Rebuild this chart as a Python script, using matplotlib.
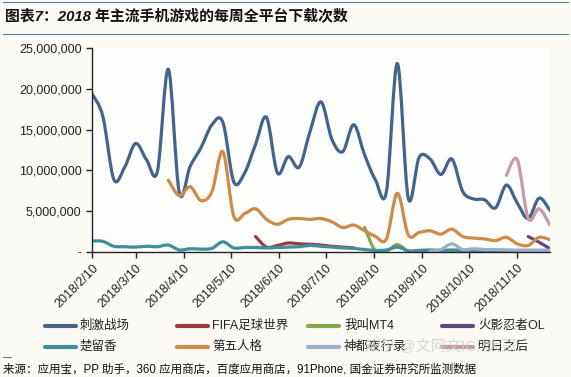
import numpy as np
import pandas as pd
import matplotlib
matplotlib.use('Agg')
import matplotlib.pyplot as plt
import matplotlib.dates as mdates
from matplotlib.path import Path
from matplotlib.patches import PathPatch
from matplotlib.lines import Line2D
from matplotlib.ticker import FuncFormatter

plt.rcParams['font.family'] = ['Liberation Sans', 'Noto Sans CJK SC']
plt.rcParams['axes.unicode_minus'] = False

# weekly download counts (millions), first week 2018/2/10
weeks = pd.date_range('2018-02-10', periods=43, freq='7D')

ciji = [19.4, 16.6, 8.9, 10.4, 13.3, 11.3, 9.9, 22.4, 7.3, 10.5,
        12.8, 15.6, 15.9, 8.6, 9.7, 13.2, 16.5, 9.7, 11.7, 10.4,
        14.8, 18.4, 13.8, 12.3, 15.6, 11.9, 8.8, 7.4, 23.1, 6.6,
        11.6, 11.4, 9.5, 11.4, 7.4, 6.5, 6.4, 5.4, 8.2, 6.0,
        4.1, 6.6, 5.1]
fifa_start = 15
fifa = [1.9, 0.6, 0.8, 1.1, 1.0, 0.95, 0.85, 0.7, 0.6, 0.5]
mt4_start = 25
mt4 = [3.0, 0.1, 0.1, 0.9, 0.1, 0.05, 0.05, 0.05, 0.05, 0.05,
       0.05, 0.05, 0.05, 0.05, 0.05, 0.05, 0.05, 0.05]
huoying_start = 40
huoying = [1.9, 1.2, 0.4]
chuliuxiang = [1.35, 1.3, 0.7, 0.65, 0.6, 0.7, 0.65, 0.85, 0.25, 0.4,
               0.35, 0.45, 1.25, 0.5, 0.55, 0.55, 0.5, 0.55, 0.6, 0.65,
               0.8, 0.7, 0.6, 0.5, 0.45, 0.3, 0.2, 0.25, 0.6, 0.15,
               0.2, 0.25, 0.2, 0.25, 0.2, 0.2, 0.2, 0.2, 0.2, 0.2,
               0.2, 0.2, 0.2]
diwu_start = 7
diwu = [8.8, 6.9, 8.0, 6.3, 7.4, 12.3, 4.4, 4.7, 5.3, 4.0,
        3.4, 4.0, 4.1, 4.0, 4.1, 3.7, 3.0, 3.3, 2.6, 1.9,
        1.6, 7.2, 2.1, 2.4, 2.6, 2.2, 2.8, 1.9, 1.7, 1.6,
        1.4, 1.8, 1.0, 0.8, 1.8, 1.5]
shendu_start = 31
shendu = [0.1, 0.3, 1.0, 0.3, 0.4, 0.3, 0.3, 0.25, 0.2, 0.2, 0.2, 0.2]
mingri_start = 38
mingri = [9.4, 11.3, 4.1, 5.3, 3.3]

names = ['刺激战场', 'FIFA足球世界', '我叫MT4', '火影忍者OL',
         '楚留香', '第五人格', '神都夜行录', '明日之后']
series = [(0, ciji), (fifa_start, fifa), (mt4_start, mt4), (huoying_start, huoying),
          (0, chuliuxiang), (diwu_start, diwu), (shendu_start, shendu), (mingri_start, mingri)]
colors = ['#44648c', '#9c3b3e', '#86a84d', '#5a4b7b',
          '#3f8e9b', '#d08a48', '#9aafcb', '#c69aa6']

month_ticks = pd.date_range('2018-02-01', '2018-11-01', freq='MS') + pd.Timedelta(days=9)


def smooth_path(x, y):
    # Excel style smoothed line: cubic bezier through every point
    pts = np.column_stack([x, y])
    n = len(pts)
    verts = [pts[0]]
    codes = [Path.MOVETO]
    for i in range(n - 1):
        p0 = pts[i - 1] if i > 0 else pts[i]
        p1 = pts[i]
        p2 = pts[i + 1]
        p3 = pts[i + 2] if i + 2 < n else pts[i + 1]
        c1 = p1 + (p2 - p0) / 6
        c2 = p2 - (p3 - p1) / 6
        verts += [c1, c2, p2]
        codes += [Path.CURVE4] * 3
    return Path(verts, codes)


fig = plt.figure(figsize=(5.71, 3.77), dpi=100)
fig.patch.set_facecolor('#fcfaf5')
ax = fig.add_axes([92 / 571, 1 - 252 / 377, 458 / 571, 204 / 377])
ax.set_facecolor('#fdfdfc')

xnum = mdates.date2num(weeks)
for (start, vals), c in zip(series, colors):
    xs = xnum[start:start + len(vals)]
    ys = np.array(vals) * 1e6
    patch = PathPatch(smooth_path(xs, ys), fill=False, edgecolor=c, lw=2.3,
                      capstyle='round', joinstyle='round')
    ax.add_patch(patch)

ax.set_xlim(xnum[0], xnum[-1])
ax.set_ylim(0, 25e6)
ax.set_yticks(np.arange(0, 25e6 + 1, 5e6))
ax.yaxis.set_major_formatter(FuncFormatter(lambda v, p: '-' if v == 0 else f'{v:,.0f}'))
ax.set_xticks(mdates.date2num(month_ticks))
ax.set_xticklabels([f'{d.year}/{d.month}/{d.day}' for d in month_ticks],
                   rotation=45, ha='right', va='top', rotation_mode='anchor')
ax.tick_params(axis='both', labelsize=9, colors='#222222', length=4, width=1)
ax.tick_params(axis='x', pad=3)
for s in ['top', 'right']:
    ax.spines[s].set_visible(False)
for s in ['left', 'bottom']:
    ax.spines[s].set_color('#222222')
    ax.spines[s].set_linewidth(1)

# title block
fig.add_artist(Line2D([3 / 571, 568 / 571], [1 - 2 / 377] * 2, color='#4f8196', lw=0.8))
fig.add_artist(Line2D([3 / 571, 568 / 571], [1 - 34 / 377] * 2, color='#4f8196', lw=0.8))
fig.text(5 / 571, 1 - 17 / 377, '图表7：2018 年主流手机游戏的每周全平台下载次数',
         fontsize=10.7, fontweight='bold', style='italic', va='center', color='#111111')

# legend, drawn by hand to keep the Excel column positions
handle_x = [45, 177, 308, 442]
text_x = [80, 212, 344, 478]
row_y = [326, 347]
for k, (name, c) in enumerate(zip(names, colors)):
    col, row = k % 4, k // 4
    y = 1 - row_y[row] / 377
    fig.add_artist(Line2D([handle_x[col] / 571, (handle_x[col] + 31) / 571], [y, y],
                          color=c, lw=3, solid_capstyle='round'))
    fig.text(text_x[col] / 571, y, name, fontsize=9, va='center', color='#222222')

fig.text(365 / 571, 1 - 346 / 377, '知乎 @文网文ICP大哥', fontsize=11,
         color='#cfcfcf', alpha=0.8, va='center')

fig.add_artist(Line2D([3 / 571, 11 / 571], [1 - 357 / 377] * 2, color='#4f8196', lw=0.8))
fig.text(3 / 571, 1 - 369 / 377,
         '来源：应用宝，PP 助手，360 应用商店，百度应用商店，91Phone, 国金证券研究所监测数据',
         fontsize=8.3, va='center', color='#111111')

fig.savefig('out.png', dpi=100, facecolor=fig.get_facecolor())
